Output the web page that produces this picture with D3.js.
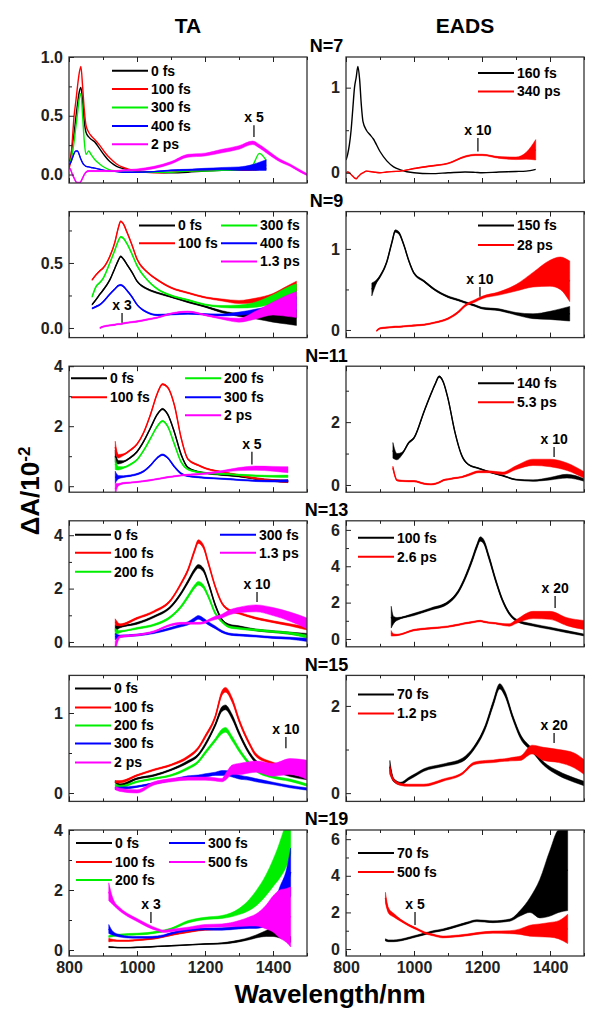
<!DOCTYPE html>
<html><head><meta charset="utf-8">
<script src="https://cdn.jsdelivr.net/npm/d3@7"></script>
<style>
body{margin:0;background:#fff}
text{font-family:"Liberation Sans",Arial,sans-serif;font-weight:bold}
</style>
</head><body>
<svg id="c" width="604" height="1024"></svg>
<script>
// ---------- DATA ----------
// N=7 TA
const n7_ta_wl = [800,805,810,815,820,825,830,835,840,845,850,858,865,875,890,905,920,940,960,1000,1050,1100,1150,1200,1250,1300,1340,1360,1380,1420,1450,1480,1500];
const n7_ta_0fs = [0.09,0.15,0.25,0.35,0.48,0.6,0.7,0.74,0.62,0.45,0.36,0.32,0.3,0.28,0.22,0.16,0.11,0.07,0.05,0.03,0.02,0.015,0.02,0.03,0.035,0.04,0.04,0.045,0.05,null,null,null,null];
const n7_ta_100fs = [0.05,0.12,0.3,0.5,0.62,0.75,0.86,0.92,0.75,0.55,0.42,0.36,0.33,0.3,0.25,0.19,0.14,0.09,0.06,0.03,0.015,0.02,0.03,0.035,0.04,0.035,0.04,0.045,0.05,null,null,null,null];
const n7_ta_300fs = [0.1,0.12,0.18,0.28,0.4,0.52,0.64,0.69,0.5,0.28,0.17,0.2,0.17,0.13,0.09,0.06,0.04,0.03,0.02,0.02,0.02,0.02,0.03,0.03,0.035,0.04,0.08,0.18,0.12,null,null,null,null];
const n7_ta_400fs = [0.08,0.1,0.14,0.18,0.2,0.2,0.17,0.13,0.1,0.08,0.07,0.065,0.06,0.055,0.045,0.035,0.03,0.025,0.02,0.02,0.025,0.035,0.04,0.045,0.05,0.05,0.06,0.07,0.08,null,null,null,null];
const n7_ta_400fs_noise = [0,0,0,0,0,0,0,0,0,0,0,0,0,0,0,0,0,0,0,0,0,0.005,0.005,0.008,0.01,0.015,0.025,0.035,0.045,0,0,0,0];
const n7_ta_2ps = [0.06,0.04,0.0,-0.03,-0.06,-0.07,-0.07,-0.06,-0.03,0.0,0.02,0.03,0.03,0.03,0.03,0.03,0.03,0.03,0.035,0.04,0.06,0.1,0.16,0.17,0.2,0.23,0.27,0.24,0.2,0.12,0.08,0.03,0.0];
const n7_ta_2ps_noise = [0.005,0.005,0.005,0.005,0.005,0.005,0.005,0.005,0.005,0.005,0.005,0.005,0.005,0.005,0.005,0.005,0.005,0.005,0.005,0.008,0.01,0.01,0.012,0.012,0.015,0.015,0.015,0.015,0.015,0.012,0.01,0.01,0.008];
// N=7 EADS
const n7_eads_wl = [800,805,810,815,820,825,830,835,840,845,850,860,870,880,900,920,940,960,1000,1050,1100,1150,1180,1200,1250,1300,1330,1358];
const n7_eads_160fs = [0.15,0.22,0.33,0.5,0.75,1.0,1.12,1.25,1.1,0.8,0.6,0.5,0.45,0.4,0.25,0.14,0.07,0.035,0.0,-0.01,0.0,0.01,0.005,0.0,0.01,0.015,0.02,0.04];
const n7_eads_340ps = [0.0,0.01,0.0,-0.02,-0.04,-0.06,-0.07,-0.05,-0.03,-0.01,0.0,0.02,0.015,0.01,0.0,0.01,0.015,0.02,0.05,0.08,0.11,0.19,0.21,0.21,0.18,0.17,0.2,0.27];
const n7_eads_340ps_noise = [0,0,0,0,0,0,0,0,0,0,0,0,0,0,0,0,0,0,0.003,0.005,0.005,0.008,0.008,0.008,0.01,0.015,0.04,0.12];
// N=9 TA
const n9_ta_wl = [868,880,891,900,920,935,945,952,960,970,985,1000,1030,1060,1100,1150,1200,1250,1300,1350,1400,1440,1469];
const n9_ta_0fs = [0.18,0.22,0.26,0.29,0.37,0.46,0.52,0.55,0.53,0.49,0.43,0.36,0.3,0.27,0.24,0.2,0.165,0.125,0.1,0.09,0.08,0.08,0.08];
const n9_ta_100fs = [0.37,0.41,0.44,0.46,0.55,0.66,0.77,0.82,0.8,0.74,0.64,0.53,0.43,0.37,0.31,0.27,0.235,0.215,0.2,0.21,0.23,0.27,0.3];
const n9_ta_300fs = [0.24,0.32,0.35,0.38,0.5,0.6,0.67,0.7,0.69,0.65,0.57,0.48,0.37,0.3,0.25,0.215,0.18,0.165,0.165,0.18,0.22,0.26,0.28];
const n9_ta_400fs = [0.15,0.165,0.18,0.2,0.26,0.3,0.325,0.33,0.32,0.29,0.24,0.18,0.12,0.1,0.105,0.11,0.105,0.1,0.11,0.125,0.14,0.17,0.18];
const n9_ta_1p3ps = [null,null,0.0,0.01,0.02,0.025,0.03,0.03,0.035,0.04,0.045,0.05,0.065,0.08,0.11,0.125,0.1,0.075,0.06,0.1,0.15,0.17,0.18];
const n9_ta_noise = [0.005,0.005,0.005,0.005,0.005,0.005,0.005,0.005,0.005,0.005,0.005,0.005,0.005,0.005,0.005,0.005,0.005,0.008,0.012,0.02,0.035,0.05,0.06];
const n9_ta_1p3ps_noise = [0,0,0.005,0.005,0.005,0.005,0.005,0.005,0.005,0.005,0.005,0.005,0.005,0.005,0.005,0.005,0.005,0.008,0.015,0.03,0.05,0.08,0.1];
// N=9 EADS
const n9_eads_wl = [876,890,900,920,935,945,955,970,985,1000,1030,1060,1100,1130,1150,1180,1200,1250,1300,1350,1400,1430,1458];
const n9_eads_150fs = [0.5,0.6,0.66,0.84,1.08,1.22,1.2,1.05,0.85,0.7,0.6,0.5,0.41,0.37,0.34,0.3,0.27,0.25,0.2,0.17,0.18,0.19,0.2];
const n9_eads_150fs_noise = [0.08,0.02,0.015,0.015,0.015,0.015,0.015,0.01,0.01,0.01,0.01,0.01,0.01,0.01,0.01,0.01,0.01,0.012,0.015,0.03,0.05,0.07,0.09];
const n9_eads_28ps = [null,-0.01,0.02,0.03,0.035,0.04,0.04,0.045,0.05,0.055,0.065,0.09,0.14,0.22,0.3,0.36,0.4,0.45,0.52,0.62,0.7,0.7,0.6];
const n9_eads_28ps_noise = [0,0.008,0.008,0.008,0.008,0.008,0.008,0.008,0.008,0.008,0.008,0.008,0.01,0.012,0.012,0.015,0.015,0.02,0.04,0.09,0.16,0.2,0.25];
// N=11 TA
const n11_ta_wl = [936,945,960,980,1000,1020,1040,1060,1075,1090,1110,1130,1150,1180,1200,1250,1300,1350,1400,1444];
const n11_ta_0fs = [1.0,0.8,0.82,0.95,1.15,1.5,1.95,2.4,2.57,2.4,1.8,1.05,0.62,0.48,0.44,0.38,0.33,0.25,0.19,0.16];
const n11_ta_100fs = [1.3,1.0,1.05,1.2,1.4,1.8,2.4,3.1,3.4,3.3,2.7,1.6,0.9,0.7,0.6,0.47,0.37,0.26,0.19,0.16];
const n11_ta_200fs = [0.75,0.6,0.62,0.72,0.88,1.2,1.6,2.0,2.17,2.0,1.4,0.8,0.56,0.47,0.44,0.41,0.38,0.35,0.33,0.33];
const n11_ta_300fs = [0.3,0.3,0.32,0.35,0.4,0.5,0.7,0.95,1.05,0.95,0.65,0.42,0.34,0.3,0.28,0.25,0.21,0.18,0.17,0.18];
const n11_ta_2ps = [-0.1,0.05,0.1,0.12,0.14,0.17,0.2,0.24,0.27,0.3,0.33,0.36,0.38,0.4,0.42,0.49,0.57,0.6,0.58,0.55];
const n11_ta_noise = [0.2,0.06,0.03,0.025,0.025,0.025,0.025,0.025,0.025,0.025,0.025,0.025,0.02,0.02,0.02,0.02,0.02,0.025,0.03,0.04];
const n11_ta_2ps_noise = [0.2,0.04,0.025,0.02,0.02,0.02,0.02,0.02,0.02,0.02,0.02,0.02,0.02,0.025,0.025,0.03,0.05,0.07,0.08,0.1];
// N=11 EADS
const n11_eads_wl = [938,950,965,985,1000,1030,1050,1063,1074,1086,1100,1120,1140,1160,1190,1220,1260,1300,1350,1400,1450,1500];
const n11_eads_140fs = [1.1,0.9,1.0,1.35,1.5,2.35,2.9,3.23,3.45,3.28,2.75,1.7,0.95,0.65,0.53,0.42,0.3,0.17,0.14,0.2,0.28,0.16];
const n11_eads_140fs_noise = [0.25,0.1,0.04,0.025,0.025,0.025,0.025,0.025,0.025,0.025,0.025,0.025,0.02,0.015,0.015,0.015,0.015,0.015,0.02,0.04,0.06,0.04];
const n11_eads_5p3ps = [0.55,0.15,0.13,0.12,0.12,0.04,0.02,0.04,0.08,0.15,0.18,0.22,0.25,0.32,0.42,0.42,0.37,0.55,0.72,0.7,0.58,0.32];
const n11_eads_5p3ps_noise = [0.05,0.02,0.02,0.02,0.02,0.02,0.02,0.02,0.02,0.02,0.02,0.02,0.02,0.03,0.03,0.03,0.04,0.06,0.1,0.12,0.12,0.1];
// N=13 TA
const n13_ta_wl = [936,950,1000,1050,1100,1130,1150,1170,1180,1195,1210,1230,1250,1270,1300,1350,1400,1450,1500];
const n13_ta_0fs = [0.51,0.57,0.7,0.95,1.33,1.83,2.26,2.7,2.83,2.7,2.2,1.39,0.83,0.64,0.57,0.45,0.39,0.33,0.26];
const n13_ta_100fs = [0.75,0.64,0.89,1.14,1.58,2.2,2.7,3.45,3.76,3.58,2.95,2.08,1.45,1.2,1.08,0.89,0.76,0.64,0.51];
const n13_ta_200fs = [0.39,0.39,0.51,0.64,0.95,1.33,1.7,2.08,2.2,2.08,1.7,1.08,0.76,0.57,0.51,0.45,0.39,0.33,0.2];
const n13_ta_300fs = [0.2,0.22,0.26,0.35,0.51,0.62,0.7,0.85,0.92,0.83,0.7,0.55,0.39,0.3,0.26,0.22,0.17,0.14,0.08];
const n13_ta_1p3ps = [-0.18,0.2,0.26,0.39,0.64,0.7,0.7,0.7,0.7,0.72,0.8,0.9,0.97,1.1,1.2,1.26,1.14,0.95,0.7];
const n13_ta_noise = [0.12,0.04,0.035,0.035,0.04,0.05,0.06,0.07,0.07,0.07,0.06,0.05,0.04,0.035,0.035,0.035,0.035,0.04,0.06];
const n13_ta_1p3ps_noise = [0.2,0.04,0.03,0.03,0.035,0.035,0.035,0.035,0.035,0.035,0.04,0.06,0.07,0.09,0.1,0.13,0.15,0.17,0.2];
// N=13 EADS
const n13_eads_wl = [933,940,950,1000,1050,1100,1130,1150,1170,1185,1195,1205,1220,1240,1260,1280,1300,1350,1400,1450,1500];
const n13_eads_100fs = [1.2,1.04,1.1,1.35,1.65,2.0,2.6,3.35,4.3,5.1,5.5,5.35,4.52,3.24,2.14,1.41,1.04,0.77,0.59,0.4,0.22];
const n13_eads_100fs_noise = [0.6,0.2,0.08,0.06,0.06,0.07,0.08,0.1,0.12,0.12,0.12,0.12,0.12,0.1,0.08,0.07,0.06,0.06,0.06,0.06,0.05];
const n13_eads_2p6ps = [0.31,0.22,0.22,0.49,0.59,0.68,0.78,0.86,0.92,0.97,0.99,0.95,0.9,0.86,0.8,0.77,0.95,1.32,1.3,0.95,0.77];
const n13_eads_2p6ps_noise = [0.15,0.06,0.04,0.04,0.04,0.04,0.04,0.04,0.04,0.04,0.04,0.04,0.04,0.04,0.05,0.07,0.1,0.2,0.22,0.22,0.25];
// N=15 TA
const n15_ta_wl = [936,950,1000,1050,1100,1150,1180,1200,1230,1250,1260,1280,1300,1330,1350,1400,1450,1500];
const n15_ta_0fs = [0.14,0.1,0.18,0.22,0.29,0.39,0.475,0.6,0.85,1.05,1.07,0.95,0.75,0.5,0.39,0.29,0.22,0.18];
const n15_ta_100fs = [0.14,0.14,0.22,0.29,0.35,0.45,0.56,0.7,0.95,1.25,1.29,1.16,0.91,0.62,0.475,0.37,0.31,0.29];
const n15_ta_200fs = [0.1,0.08,0.14,0.18,0.22,0.31,0.39,0.5,0.66,0.77,0.79,0.68,0.54,0.37,0.29,0.2,0.16,0.1];
const n15_ta_300fs = [0.06,0.06,0.08,0.12,0.16,0.2,0.21,0.22,0.24,0.25,0.25,0.23,0.2,0.18,0.16,0.12,0.08,0.05];
const n15_ta_2ps = [0.06,0.04,0.02,0.12,0.16,0.18,0.18,0.18,0.17,0.16,0.2,0.29,0.3,0.32,0.33,0.29,0.33,0.29];
const n15_ta_noise = [0.015,0.015,0.01,0.01,0.01,0.015,0.015,0.02,0.02,0.03,0.03,0.03,0.025,0.02,0.02,0.015,0.015,0.015];
const n15_ta_2ps_noise = [0.02,0.02,0.02,0.02,0.02,0.02,0.02,0.02,0.02,0.02,0.04,0.06,0.07,0.07,0.07,0.08,0.1,0.12];
// N=15 EADS
const n15_eads_wl = [929,940,961,984,1000,1029,1086,1142,1176,1210,1233,1252,1267,1290,1313,1347,1381,1426,1471,1500];
const n15_eads_70fs = [0.6,0.3,0.22,0.33,0.4,0.53,0.64,0.76,1.03,1.52,2.06,2.45,2.29,1.75,1.3,0.99,0.68,0.45,0.3,0.22];
const n15_eads_70fs_noise = [0.15,0.04,0.03,0.03,0.03,0.03,0.03,0.04,0.04,0.05,0.06,0.06,0.06,0.05,0.05,0.04,0.04,0.05,0.05,0.05];
const n15_eads_1p2ps = [0.53,0.3,0.2,0.18,0.18,0.18,0.3,0.45,0.68,0.72,0.73,0.75,0.76,0.78,0.8,1.0,0.9,0.85,0.75,0.6];
const n15_eads_1p2ps_noise = [0.1,0.03,0.025,0.025,0.025,0.025,0.025,0.025,0.03,0.03,0.03,0.03,0.03,0.04,0.05,0.1,0.15,0.15,0.17,0.17];
// N=19 TA
const n19_ta_wl = [917,930,950,975,1000,1030,1060,1080,1100,1150,1200,1250,1300,1330,1350,1380,1400,1420,1440,1452];
const n19_ta_0fs = [0.1,0.09,0.08,0.08,0.09,0.1,0.12,0.13,0.14,0.17,0.2,0.22,0.3,0.38,0.45,0.55,0.6,0.55,0.45,0.35];
const n19_ta_0fs_noise = [0.02,0.01,0.01,0.01,0.01,0.01,0.01,0.01,0.01,0.01,0.01,0.02,0.03,0.04,0.05,0.1,0.15,0.15,0.1,0.1];
const n19_ta_100fs = [0.33,0.32,0.31,0.31,0.33,0.36,0.4,0.45,0.5,0.6,0.68,0.7,0.75,0.8,0.82,0.88,null,null,null,null];
const n19_ta_100fs_noise = [0.06,0.03,0.02,0.02,0.02,0.02,0.02,0.02,0.02,0.02,0.02,0.02,0.03,0.04,0.05,0.06,0,0,0,0];
const n19_ta_200fs = [0.45,0.48,0.5,0.52,0.53,0.55,0.6,0.64,0.7,0.94,1.05,1.1,1.28,1.5,1.72,2.17,2.56,3.0,3.6,4.2];
const n19_ta_200fs_noise = [0.03,0.03,0.03,0.03,0.03,0.03,0.03,0.03,0.03,0.04,0.04,0.05,0.1,0.18,0.25,0.35,0.45,0.6,0.8,1.0];
const n19_ta_300fs = [0.7,0.55,0.47,0.43,0.42,0.42,0.44,0.48,0.55,0.66,0.7,0.7,0.75,0.8,0.82,0.95,1.2,1.6,2.1,2.6];
const n19_ta_300fs_noise = [0.15,0.06,0.04,0.03,0.03,0.03,0.03,0.03,0.03,0.03,0.03,0.04,0.05,0.08,0.1,0.15,0.3,0.5,0.6,0.8];
const n19_ta_500fs = [1.94,1.6,1.35,1.15,1.0,0.82,0.68,0.62,0.65,0.72,0.8,0.82,0.88,0.95,1.0,1.1,1.2,1.2,1.15,1.1];
const n19_ta_500fs_noise = [0.3,0.1,0.06,0.05,0.05,0.05,0.04,0.04,0.04,0.04,0.05,0.05,0.1,0.15,0.2,0.4,0.6,0.8,0.9,1.0];
// N=19 EADS
const n19_eads_wl = [916,925,940,960,985,1009,1030,1056,1085,1106,1156,1185,1232,1282,1312,1341,1370,1400,1426,1452];
const n19_eads_70fs = [0.5,0.45,0.45,0.49,0.6,0.72,0.82,0.95,1.05,1.15,1.42,1.55,1.49,1.58,1.95,2.4,2.75,3.6,4.25,4.3];
const n19_eads_70fs_noise = [0.06,0.05,0.05,0.05,0.05,0.05,0.05,0.05,0.05,0.05,0.05,0.05,0.05,0.06,0.15,0.4,1.05,1.8,2.25,2.2];
const n19_eads_500fs = [2.8,2.1,1.85,1.58,1.3,1.09,0.9,0.77,0.66,0.68,0.77,0.85,0.92,0.92,0.95,1.0,1.02,1.05,1.05,1.1];
const n19_eads_500fs_noise = [0.3,0.15,0.1,0.06,0.05,0.05,0.05,0.05,0.05,0.05,0.05,0.05,0.06,0.08,0.15,0.3,0.35,0.4,0.5,0.8];

// scaling annotations (one per panel, row-major: TA, EADS)
const mark_label = ["x 5","x 10","x 3","x 10","x 5","x 10","x 10","x 20","x 10","x 20","x 3","x 5"];
const mark_wl = [1344,1188,956,1194,1338,1412,1353,1415,1438,1412,1041,1003];
const mark_lo = [0.32,0.25,0.04,0.41,0.72,0.89,1.5,1.7,0.56,1.15,0.9,1.31];
const mark_hi = [0.42,0.41,0.115,0.53,1.15,1.21,1.87,2.36,0.7,1.38,1.27,2.02];

const row_titles = ["N=7","N=9","N=11","N=13","N=15","N=19"];
const col_titles = ["TA","EADS"];
const x_major = [800,1000,1200,1400];
const x_minor = [900,1100,1300,1500];

// ---------- LAYOUT ----------
const BK="#000000", RD="#ff0000", GN="#00ee00", BL="#0000ff", MG="#ff00ff";
const colX=[69,346], rowY=[57,211.6,366.2,520.8,675.4,830], PW=238, PH=126;
const FONT='"Liberation Sans",Arial,sans-serif';
const S=(name,color,v,noise)=>({name,color,v,noise});
const f1=d3.format(".1f"), f0=d3.format("d");

const panels=[
 {row:0,col:0,wl:n7_ta_wl,dom:[-0.072,1.0],major:[0,0.5,1],minor:[0.25,0.75],fmt:f1,
  series:[S("0 fs",BK,n7_ta_0fs),S("100 fs",RD,n7_ta_100fs),S("300 fs",GN,n7_ta_300fs),S("400 fs",BL,n7_ta_400fs,n7_ta_400fs_noise),S("2 ps",MG,n7_ta_2ps,n7_ta_2ps_noise)],
  legend:[[0,43,13.7],[1,43,32.1],[2,43,50.5],[3,43,68.9],[4,43,87.3]]},
 {row:0,col:1,wl:n7_eads_wl,dom:[-0.12,1.36],major:[0,1],minor:[0.5],fmt:f0,
  series:[S("160 fs",BK,n7_eads_160fs),S("340 ps",RD,n7_eads_340ps,n7_eads_340ps_noise)],
  legend:[[0,132,16],[1,132,34.5]]},
 {row:1,col:0,wl:n9_ta_wl,dom:[-0.074,0.895],major:[0,0.5],minor:[0.25,0.75],fmt:f1,
  series:[S("0 fs",BK,n9_ta_0fs,n9_ta_noise),S("100 fs",RD,n9_ta_100fs,n9_ta_noise),S("300 fs",GN,n9_ta_300fs,n9_ta_noise),S("400 fs",BL,n9_ta_400fs,n9_ta_noise),S("1.3 ps",MG,n9_ta_1p3ps,n9_ta_1p3ps_noise)],
  legend:[[0,70,14],[1,70,31.7],[2,152,14],[3,152,31.7],[4,152,50]]},
 {row:1,col:1,wl:n9_eads_wl,dom:[-0.094,1.46],major:[0,1],minor:[0.5],fmt:f0,
  series:[S("150 fs",BK,n9_eads_150fs,n9_eads_150fs_noise),S("28 ps",RD,n9_eads_28ps,n9_eads_28ps_noise)],
  legend:[[0,132,14],[1,132,33.4]]},
 {row:2,col:0,wl:n11_ta_wl,dom:[-0.2,4.0],major:[0,2,4],minor:[1,3],fmt:f0,
  series:[S("0 fs",BK,n11_ta_0fs,n11_ta_noise),S("100 fs",RD,n11_ta_100fs,n11_ta_noise),S("200 fs",GN,n11_ta_200fs,n11_ta_noise),S("300 fs",BL,n11_ta_300fs,n11_ta_noise),S("2 ps",MG,n11_ta_2ps,n11_ta_2ps_noise)],
  legend:[[0,2,12],[1,2,31],[2,116,12],[3,116,31],[4,116,49]]},
 {row:2,col:1,wl:n11_eads_wl,dom:[-0.23,3.78],major:[0,2],minor:[1,3],fmt:f0,
  series:[S("140 fs",BK,n11_eads_140fs,n11_eads_140fs_noise),S("5.3 ps",RD,n11_eads_5p3ps,n11_eads_5p3ps_noise)],
  legend:[[0,132,17],[1,132,36]]},
 {row:3,col:0,wl:n13_ta_wl,dom:[-0.18,4.54],major:[0,2,4],minor:[1,3],fmt:f0,
  series:[S("0 fs",BK,n13_ta_0fs,n13_ta_noise),S("100 fs",RD,n13_ta_100fs,n13_ta_noise),S("200 fs",GN,n13_ta_200fs,n13_ta_noise),S("300 fs",BL,n13_ta_300fs,n13_ta_noise),S("1.3 ps",MG,n13_ta_1p3ps,n13_ta_1p3ps_noise)],
  legend:[[0,6,14],[1,6,32],[2,6,51],[3,151,14],[4,151,32]]},
 {row:3,col:1,wl:n13_eads_wl,dom:[-0.43,6.5],major:[0,2,4,6],minor:[1,3,5],fmt:f0,
  series:[S("100 fs",BK,n13_eads_100fs,n13_eads_100fs_noise),S("2.6 ps",RD,n13_eads_2p6ps,n13_eads_2p6ps_noise)],
  legend:[[0,12,17],[1,12,36]]},
 {row:4,col:0,wl:n15_ta_wl,dom:[-0.105,1.47],major:[0,1],minor:[0.5],fmt:f0,
  series:[S("0 fs",BK,n15_ta_0fs,n15_ta_noise),S("100 fs",RD,n15_ta_100fs,n15_ta_noise),S("200 fs",GN,n15_ta_200fs,n15_ta_noise),S("300 fs",BL,n15_ta_300fs,n15_ta_noise),S("2 ps",MG,n15_ta_2ps,n15_ta_2ps_noise)],
  legend:[[0,6,13],[1,6,32],[2,6,50],[3,6,68],[4,6,87]]},
 {row:4,col:1,wl:n15_eads_wl,dom:[-0.19,2.7],major:[0,2],minor:[1],fmt:f0,
  series:[S("70 fs",BK,n15_eads_70fs,n15_eads_70fs_noise),S("1.2 ps",RD,n15_eads_1p2ps,n15_eads_1p2ps_noise)],
  legend:[[0,12,19],[1,12,38]]},
 {row:5,col:0,wl:n19_ta_wl,dom:[-0.2,4.0],major:[0,2,4],minor:[1,3],fmt:f0,
  series:[S("0 fs",BK,n19_ta_0fs,n19_ta_0fs_noise),S("100 fs",RD,n19_ta_100fs,n19_ta_100fs_noise),S("200 fs",GN,n19_ta_200fs,n19_ta_200fs_noise),S("300 fs",BL,n19_ta_300fs,n19_ta_300fs_noise),S("500 fs",MG,n19_ta_500fs,n19_ta_500fs_noise)],
  legend:[[0,7,13],[1,7,32],[2,7,50],[3,100,13],[4,100,32]]},
 {row:5,col:1,wl:n19_eads_wl,dom:[-0.38,6.5],major:[0,2,4,6],minor:[1,3,5],fmt:f0,
  series:[S("70 fs",BK,n19_eads_70fs,n19_eads_70fs_noise),S("500 fs",RD,n19_eads_500fs,n19_eads_500fs_noise)],
  legend:[[0,12,23],[1,12,42]]}
];

const svg=d3.select("#c");
svg.append("rect").attr("width",604).attr("height",1024).attr("fill","#fff");

const x=d3.scaleLinear().domain([800,1500]).range([0,PW]);

panels.forEach((p,i)=>{
  const g=svg.append("g").attr("transform",`translate(${colX[p.col]},${rowY[p.row]})`);
  const y=d3.scaleLinear().domain(p.dom).range([PH,0]);
  const cid="clip"+i;
  g.append("clipPath").attr("id",cid).append("rect").attr("width",PW).attr("height",PH);
  const plot=g.append("g").attr("clip-path",`url(#${cid})`);
  p.series.forEach(s=>{
    const pts=p.wl.map((w,k)=>({w,v:s.v[k],n:s.noise?s.noise[k]:0})).filter(d=>d.v!==null&&d.v!==undefined);
    if(s.noise){
      const area=d3.area().x(d=>x(d.w)).y0(d=>y(d.v-d.n)).y1(d=>y(d.v+d.n)).curve(d3.curveMonotoneX);
      plot.append("path").attr("d",area(pts)).attr("fill",s.color)
        .attr("stroke",s.color).attr("stroke-width",0.5);
    }
    const line=d3.line().x(d=>x(d.w)).y(d=>y(d.v)).curve(d3.curveMonotoneX);
    plot.append("path").attr("d",line(pts)).attr("fill","none").attr("stroke",s.color).attr("stroke-width",1.4).attr("stroke-linejoin","round");
  });

  // scaling mark
  const mx=x(mark_wl[i]);
  g.append("line").attr("x1",mx).attr("x2",mx).attr("y1",y(mark_lo[i])).attr("y2",y(mark_hi[i])).attr("stroke","#000").attr("stroke-width",1.2);
  g.append("text").attr("x",mx).attr("y",y(mark_hi[i])-3).attr("text-anchor","middle").attr("font-size",14).text(mark_label[i]);

  // frame
  g.append("rect").attr("width",PW).attr("height",PH).attr("fill","none").attr("stroke","#333").attr("stroke-width",1.3);

  const style=sel=>{sel.attr("font-size",16).attr("font-family",FONT).attr("font-weight","bold").attr("color","#222");sel.select(".domain").remove();};
  g.append("g").attr("transform",`translate(0,${PH})`)
   .call(d3.axisBottom(x).tickValues(x_major).tickSizeInner(-5).tickSizeOuter(0).tickPadding(6).tickFormat(p.row===5?f0:()=>"")).call(style);
  g.append("g").attr("transform",`translate(0,${PH})`)
   .call(d3.axisBottom(x).tickValues(x_minor).tickSizeInner(-3).tickSizeOuter(0).tickFormat(()=>"")).call(style);
  g.append("g").call(d3.axisTop(x).tickValues(x_major).tickSizeInner(-5).tickSizeOuter(0).tickFormat(()=>"")).call(style);
  g.append("g").call(d3.axisTop(x).tickValues(x_minor).tickSizeInner(-3).tickSizeOuter(0).tickFormat(()=>"")).call(style);
  g.append("g").call(d3.axisLeft(y).tickValues(p.major).tickSizeInner(-5).tickSizeOuter(0).tickPadding(6).tickFormat(p.fmt)).call(style);
  g.append("g").call(d3.axisLeft(y).tickValues(p.minor).tickSizeInner(-3).tickSizeOuter(0).tickFormat(()=>"")).call(style);

  // legend
  const lg=g.append("g");
  p.legend.forEach(([si,lx,ly])=>{
    const s=p.series[si];
    lg.append("line").attr("x1",lx).attr("x2",lx+36).attr("y1",ly).attr("y2",ly).attr("stroke",s.color).attr("stroke-width",2);
    lg.append("text").attr("x",lx+39).attr("y",ly).attr("dy","0.35em").attr("font-size",14).text(s.name);
  });
});

row_titles.forEach((t,r)=>{
  svg.append("text").attr("x",326.5).attr("y",rowY[r]-11).attr("dy","0.35em").attr("text-anchor","middle").attr("font-size",18).text(t);
});
col_titles.forEach((t,c)=>{
  svg.append("text").attr("x",colX[c]+PW/2).attr("y",26).attr("dy","0.35em").attr("text-anchor","middle").attr("font-size",21).text(t);
});
const yt=svg.append("text").attr("transform","translate(30,491) rotate(-90)").attr("text-anchor","middle").attr("dy","0.35em").attr("font-size",26);
yt.append("tspan").text("\u0394A/10");
yt.append("tspan").attr("font-size",17).attr("dy","-0.55em").text("-2");
svg.append("text").attr("x",330).attr("y",1003).attr("text-anchor","middle").attr("font-size",26).text("Wavelength/nm");
</script>
</body></html>
